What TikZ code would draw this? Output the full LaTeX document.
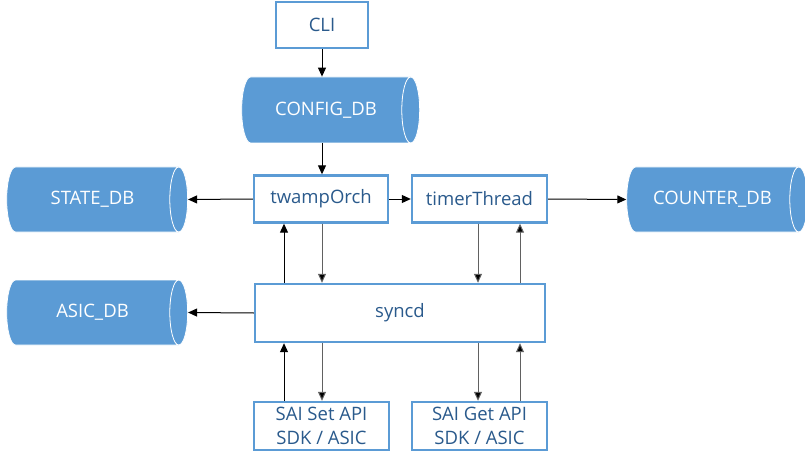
\documentclass[tikz,border=0pt]{standalone}
\usepackage{fontspec}
\setmainfont{Open Sans}
\usetikzlibrary{shapes.geometric,arrows.meta}
\definecolor{boxblue}{HTML}{5B9BD5}
\definecolor{txtblue}{HTML}{2A5A8C}
\tikzset{
  blk/.style={draw=boxblue,line width=2.4pt,fill=white,text=txtblue,inner sep=0pt,
    font=\fontsize{18.5}{24}\selectfont,align=center},
  db/.style={cylinder,shape border rotate=0,aspect=1.1,draw=white,line width=0.8pt,
    cylinder uses custom fill,cylinder body fill=boxblue,cylinder end fill=boxblue,
    text=white,font=\fontsize{18.5}{24}\selectfont,inner sep=0pt,
    minimum width=65pt,minimum height=181pt},
  arr/.style={-{Triangle[length=9pt,width=8pt]},line width=1pt},
  arrg/.style={arr,draw=black!62,-{Triangle[length=9pt,width=8pt,fill=black]}}
}
\begin{document}
\begin{tikzpicture}[x=1pt,y=-1pt]
    \useasboundingbox (0,0) rectangle (805,457);
    \node[blk,minimum width=92pt,minimum height=46pt] (cli) at (322,25) {CLI};
    \node[db,minimum height=178pt,minimum width=66pt] (config) at (326,110) {CONFIG\_DB};
    \node[blk,minimum width=134pt,minimum height=47pt] (twamp) at (321,199) {twampOrch};
    \node[blk,minimum width=135pt,minimum height=47pt] (timer) at (479.5,199) {timerThread};
    \node[db] (state) at (92.5,199.5) {STATE\_DB};
    \node[db] (counter) at (712.5,199.5) {COUNTER\_DB};
    \node[db] (asic) at (92.5,312.5) {ASIC\_DB};
    \node[blk,minimum width=290pt,minimum height=58pt] (syncd) at (400,313) {syncd};
    \node[blk,minimum width=135pt,minimum height=48pt] (setapi) at (321.5,426) {SAI Set API\\SDK / ASIC};
    \node[blk,minimum width=135pt,minimum height=48pt] (getapi) at (479.5,426) {SAI Get API\\SDK / ASIC};
    % top row
    \draw[arr] (cli.south -| 322,0) -- (config.north -| 322,0);
    \draw[arr] (config.south -| 322,0) -- (twamp.north -| 322,0);
    \draw[arr] (twamp.west) -- (state.east);
    \draw[arr] (twamp.east) -- (timer.west);
    \draw[arr] (timer.east) -- (counter.west);
    \draw[arr] (syncd.west) -- (asic.east);
    % orch / thread <-> syncd
    \draw[arr] ([xshift=-37pt]twamp.south |- syncd.north) -- ([xshift=-37pt]twamp.south);
    \draw[arrg] ([xshift=1pt]twamp.south) -- ([xshift=1pt]twamp.south |- syncd.north);
    \draw[arrg] ([xshift=-1.5pt]timer.south) -- ([xshift=-1.5pt]timer.south |- syncd.north);
    \draw[arrg] ([xshift=40.5pt]timer.south |- syncd.north) -- ([xshift=40.5pt]timer.south);
    % syncd <-> SAI
    \draw[arr] ([xshift=-37.5pt]setapi.north) -- ([xshift=-37.5pt]setapi.north |- syncd.south);
    \draw[arrg] ([xshift=0.5pt]setapi.north |- syncd.south) -- ([xshift=0.5pt]setapi.north);
    \draw[arrg] ([xshift=-1.5pt]getapi.north |- syncd.south) -- ([xshift=-1.5pt]getapi.north);
    \draw[arrg] ([xshift=40.5pt]getapi.north) -- ([xshift=40.5pt]getapi.north |- syncd.south);
\end{tikzpicture}
\end{document}
